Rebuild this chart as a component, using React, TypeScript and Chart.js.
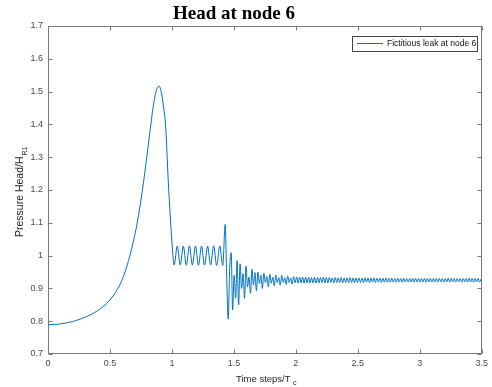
import React, { useEffect, useRef } from "react";
import { Chart, registerables } from "chart.js";
Chart.register(...registerables);

// Smooth rise and peak
const riseX = [0, 0.05, 0.1, 0.15, 0.2, 0.25, 0.3, 0.35, 0.4, 0.45, 0.5, 0.55, 0.6, 0.65, 0.7, 0.72, 0.74, 0.76, 0.78, 0.8, 0.82, 0.84, 0.86, 0.875, 0.896, 0.91, 0.93, 0.95, 0.97, 0.985, 1.0, 1.008];
const riseY = [0.790, 0.790, 0.792, 0.795, 0.799, 0.805, 0.812, 0.821, 0.832, 0.846, 0.865, 0.891, 0.928, 0.985, 1.062, 1.100, 1.145, 1.195, 1.250, 1.310, 1.370, 1.430, 1.480, 1.505, 1.517, 1.505, 1.46, 1.39, 1.23, 1.13, 1.04, 1.0];

// Regular ringing around 1.0
const ringX = [1.018, 1.043, 1.067, 1.092, 1.116, 1.141, 1.165, 1.190, 1.214, 1.239, 1.263, 1.288, 1.312, 1.337, 1.361, 1.386, 1.410];
const ringY = [0.971, 1.029, 0.971, 1.029, 0.971, 1.030, 0.971, 1.029, 0.970, 1.029, 0.971, 1.029, 0.971, 1.030, 0.970, 1.029, 0.970];

// Spike, transient and steady oscillation (uniform time steps)
const tailStart = 1.43;
const tailStep = 0.012;
const tailY = [
  1.095, 0.930, 0.806, 0.960, 1.009, 0.834, 0.940, 0.870, 0.985, 0.850,
  0.975, 0.900, 0.945, 0.870, 0.968, 0.905, 0.935, 0.885, 0.958, 0.910,
  0.948, 0.893, 0.950, 0.915, 0.940, 0.900, 0.946, 0.918, 0.936, 0.905,
  0.943, 0.916, 0.934, 0.908, 0.941, 0.918, 0.933, 0.910, 0.940, 0.918,
  0.933, 0.912, 0.938, 0.918, 0.932, 0.913, 0.936, 0.917,
  0.935, 0.916, 0.934, 0.917, 0.935, 0.916, 0.934, 0.917, 0.934, 0.917,
  0.933, 0.917, 0.934, 0.916, 0.933, 0.917, 0.933, 0.918, 0.934, 0.917,
  0.933, 0.917, 0.933, 0.918, 0.932, 0.917, 0.933, 0.918, 0.932, 0.918,
  0.933, 0.917, 0.932, 0.918, 0.932, 0.918, 0.933, 0.918, 0.932, 0.917,
  0.932, 0.918, 0.932, 0.918, 0.931, 0.918, 0.932, 0.919, 0.931, 0.918,
  0.931, 0.919, 0.932, 0.918, 0.931, 0.919, 0.931, 0.918, 0.931, 0.919,
  0.931, 0.919, 0.930, 0.919, 0.931, 0.919, 0.930, 0.919, 0.931, 0.919,
  0.930, 0.919, 0.931, 0.920, 0.930, 0.919, 0.930, 0.920, 0.931, 0.919,
  0.930, 0.920, 0.930, 0.919, 0.930, 0.920, 0.931, 0.919, 0.930, 0.920,
  0.930, 0.919, 0.930, 0.920, 0.930, 0.919, 0.930, 0.920, 0.930, 0.919,
  0.930, 0.920, 0.931, 0.919, 0.930, 0.920, 0.930, 0.919, 0.930, 0.920,
  0.930, 0.919, 0.930, 0.920, 0.930, 0.919, 0.931, 0.920, 0.930, 0.919,
  0.930, 0.920, 0.930, 0.919, 0.929,
];

const xTickVals = [0, 0.5, 1, 1.5, 2, 2.5, 3, 3.5];
const yTickVals = [0.7, 0.8, 0.9, 1, 1.1, 1.2, 1.3, 1.4, 1.5, 1.6, 1.7];

const titleText = "Head at node 6";
const legendText = "Fictitious leak at node 6";
const xTitle = "Time steps/T";
const xTitleSub = "c";
const yTitle = "Pressure Head/H";
const yTitleSub = "R1";

const LINE_COLOR = "#0072BD";
const SANS = '"Liberation Sans", Arial, sans-serif';

const decor = {
  id: "decor",
  afterDraw(chart: any) {
    const { ctx, chartArea: a, scales } = chart;
    const xs = scales.x;
    const ys = scales.y;
    ctx.save();
    // axes box
    ctx.strokeStyle = "#7a7a7a";
    ctx.lineWidth = 1;
    const L = Math.round(a.left) + 0.5;
    const R = Math.round(a.right) - 0.5;
    const T = Math.round(a.top) + 0.5;
    const B = Math.round(a.bottom) - 0.5;
    ctx.strokeRect(L, T, R - L, B - T);
    ctx.beginPath();
    for (const v of xTickVals) {
      const px = Math.round(xs.getPixelForValue(v)) + 0.5;
      ctx.moveTo(px, B);
      ctx.lineTo(px, B - 4);
      ctx.moveTo(px, T);
      ctx.lineTo(px, T + 4);
    }
    for (const v of yTickVals) {
      const py = Math.round(ys.getPixelForValue(v)) + 0.5;
      ctx.moveTo(L, py);
      ctx.lineTo(L + 4, py);
      ctx.moveTo(R, py);
      ctx.lineTo(R - 4, py);
    }
    ctx.stroke();

    // title
    ctx.fillStyle = "#000";
    ctx.font = 'bold 19px "Liberation Serif", "Times New Roman", serif';
    ctx.textAlign = "center";
    ctx.textBaseline = "alphabetic";
    ctx.fillText(titleText, 234, 19);

    // x title
    ctx.fillStyle = "#262626";
    ctx.textAlign = "left";
    ctx.font = `9.5px ${SANS}`;
    ctx.fillText(xTitle, 236, 381.5);
    ctx.font = `7px ${SANS}`;
    ctx.fillText(xTitleSub, 293, 385);

    // y title
    ctx.save();
    ctx.translate(22.5, 237);
    ctx.rotate(-Math.PI / 2);
    ctx.font = `10.5px ${SANS}`;
    ctx.fillText(yTitle, 0, 0);
    const w = ctx.measureText(yTitle).width;
    ctx.font = `7px ${SANS}`;
    ctx.fillText(yTitleSub, w + 1, 4);
    ctx.restore();

    // legend
    ctx.fillStyle = "#fff";
    ctx.fillRect(352, 36, 125, 15);
    ctx.strokeStyle = "#444";
    ctx.strokeRect(352.5, 36.5, 125, 15);
    ctx.strokeStyle = LINE_COLOR;
    ctx.beginPath();
    ctx.moveTo(357, 43.5);
    ctx.lineTo(383, 43.5);
    ctx.stroke();
    ctx.fillStyle = "#111";
    ctx.font = `8.5px ${SANS}`;
    ctx.textBaseline = "middle";
    ctx.fillText(legendText, 387, 44);
    ctx.restore();
  },
};

export default function App() {
  const ref = useRef<HTMLCanvasElement | null>(null);
  useEffect(() => {
    if (!ref.current) return;
    const pts: { x: number; y: number }[] = [];
    riseX.forEach((x, i) => pts.push({ x, y: riseY[i] }));
    ringX.forEach((x, i) => pts.push({ x, y: ringY[i] }));
    tailY.forEach((y, i) => pts.push({ x: tailStart + i * tailStep, y }));
    const fmt = (v: any) => String(Math.round(Number(v) * 10) / 10);
    const chart = new Chart(ref.current, {
      type: "line",
      data: {
        datasets: [
          {
            label: legendText,
            data: pts,
            borderColor: LINE_COLOR,
            borderWidth: 1,
            pointRadius: 0,
            fill: false,
            cubicInterpolationMode: "monotone",
          },
        ],
      },
      options: {
        animation: false,
        responsive: false,
        maintainAspectRatio: false,
        devicePixelRatio: 1,
        layout: { padding: { top: 26, right: 6, left: 0, bottom: 0 } },
        plugins: { legend: { display: false }, title: { display: false }, tooltip: { enabled: false } },
        scales: {
          x: {
            type: "linear",
            min: 0,
            max: 3.5,
            grid: { display: false, drawTicks: false, drawOnChartArea: false },
            border: { display: false },
            ticks: {
              stepSize: 0.5,
              padding: 4,
              maxRotation: 0,
              autoSkip: false,
              color: "#4a4a4a",
              font: { family: SANS, size: 9 },
              callback: fmt,
            },
            afterFit: (s: any) => {
              s.height = 33;
            },
          },
          y: {
            type: "linear",
            min: 0.7,
            max: 1.7,
            grid: { display: false, drawTicks: false, drawOnChartArea: false },
            border: { display: false },
            ticks: {
              stepSize: 0.1,
              padding: 5,
              autoSkip: false,
              color: "#4a4a4a",
              font: { family: SANS, size: 9 },
              callback: fmt,
            },
            afterFit: (s: any) => {
              s.width = 48;
            },
          },
        },
      },
      plugins: [decor],
    } as any);
    return () => chart.destroy();
  }, []);
  return (
    <div style={{ position: "absolute", left: 0, top: 0, width: 492, height: 387, background: "#fff" }}>
      <canvas ref={ref} width={492} height={387} style={{ display: "block", width: 492, height: 387 }} />
    </div>
  );
}
